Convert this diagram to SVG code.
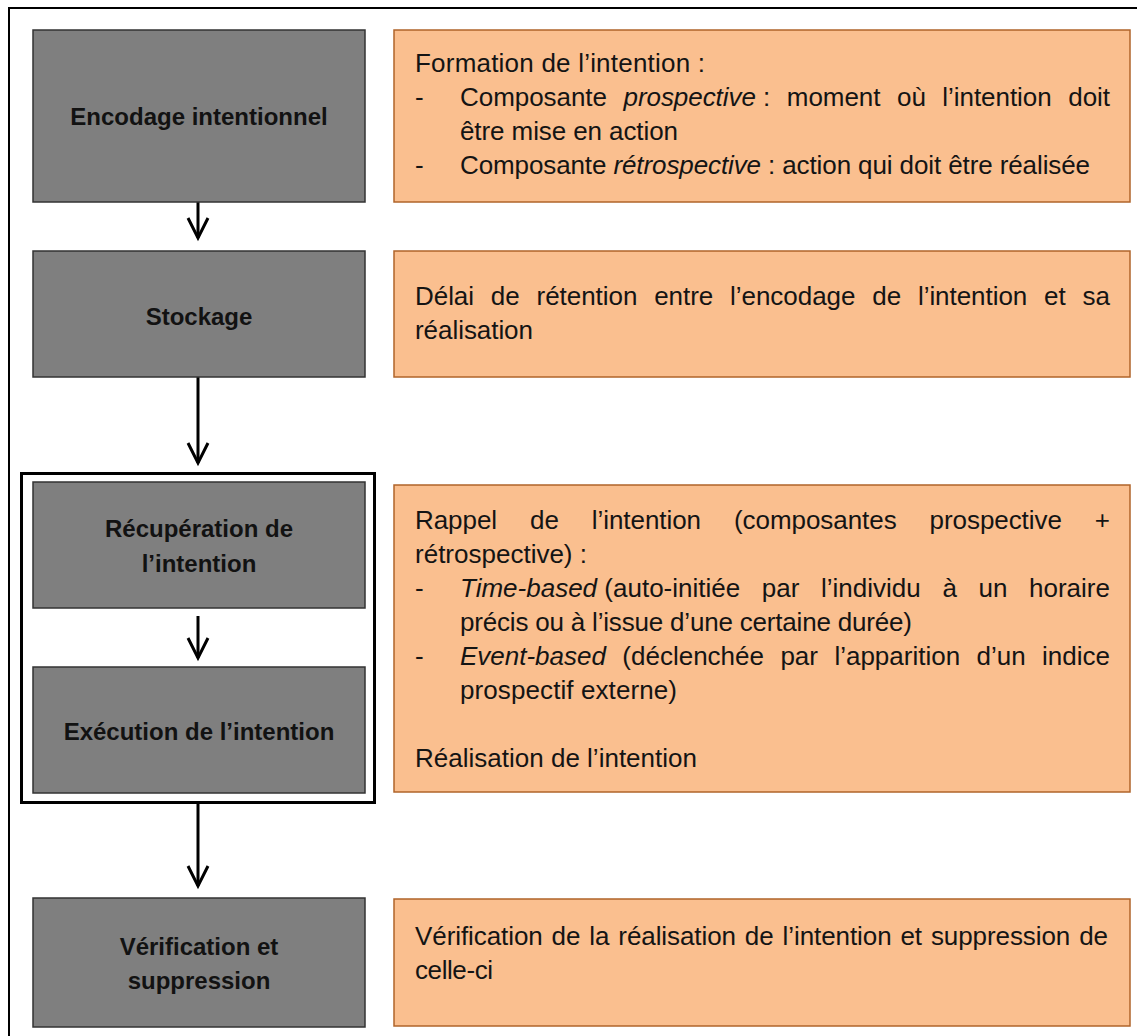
<svg xmlns="http://www.w3.org/2000/svg" width="1137" height="1036" viewBox="0 0 1137 1036">
  <style>
    .stage { fill: #7f7f7f; stroke: #333333; stroke-width: 1.5; }
    .desc { fill: #fabf8f; stroke: #b0642a; stroke-width: 1.5; }
    .lbl { font-family: "Liberation Sans", Arial, sans-serif; font-size: 24px; font-weight: bold; fill: #121212; text-anchor: middle; }
    .txt { font-family: "Liberation Sans", Arial, sans-serif; font-size: 26px; fill: #141414; }
    .it { font-style: italic; }
    .conn { stroke: #000; stroke-width: 3; fill: none; }
    .frame { fill: none; stroke: #000; }
  </style>
  <defs>
    <marker id="arr" viewBox="-24 -14 28 28" refX="0" refY="0" markerWidth="28" markerHeight="28" markerUnits="userSpaceOnUse" orient="auto">
      <path d="M-20,-10 L0,0 L-20,10" fill="none" stroke="#000" stroke-width="3" stroke-linejoin="miter"/>
    </marker>
  </defs>
  <rect width="1137" height="1036" fill="#ffffff"/>
  <rect class="frame" x="9" y="8" width="1140" height="1040" stroke-width="2"/>
  <rect id="phase-group" class="frame" x="21.5" y="473.5" width="353" height="329" stroke-width="3"/>

  <g id="connectors">
    <line class="conn" x1="198" y1="202" x2="198" y2="238" marker-end="url(#arr)"/>
    <line class="conn" x1="198" y1="377" x2="198" y2="463" marker-end="url(#arr)"/>
    <line class="conn" x1="198" y1="616" x2="198" y2="658" marker-end="url(#arr)"/>
    <line class="conn" x1="198" y1="803" x2="198" y2="886" marker-end="url(#arr)"/>
  </g>

  <g id="encodage">
    <rect class="stage" x="33" y="30" width="332" height="172"/>
    <text class="lbl" x="199" y="125">Encodage intentionnel</text>
  </g>
  <g id="stockage">
    <rect class="stage" x="33" y="251" width="332" height="126"/>
    <text class="lbl" x="199" y="325">Stockage</text>
  </g>
  <g id="recuperation">
    <rect class="stage" x="33" y="482" width="332" height="126"/>
    <text class="lbl" x="199" y="537">Récupération de</text>
    <text class="lbl" x="199" y="572">l’intention</text>
  </g>
  <g id="execution">
    <rect class="stage" x="33" y="667" width="332" height="126"/>
    <text class="lbl" x="199" y="740">Exécution de l’intention</text>
  </g>
  <g id="verification">
    <rect class="stage" x="33" y="898" width="332" height="129"/>
    <text class="lbl" x="199" y="955">Vérification et</text>
    <text class="lbl" x="199" y="989">suppression</text>
  </g>

  <g id="desc-encodage">
    <rect class="desc" x="394" y="30" width="736" height="172"/>
    <text class="txt" x="415" y="72" textLength="290" lengthAdjust="spacing">Formation de l’intention :</text>
    <text class="txt" x="415" y="106">-</text>
    <text class="txt" x="460" y="106" word-spacing="9.4" textLength="650" lengthAdjust="spacing">Composante <tspan class="it">prospective</tspan><tspan word-spacing="0"> :</tspan> moment où l’intention doit</text>
    <text class="txt" x="460" y="140" textLength="218" lengthAdjust="spacing">être mise en action</text>
    <text class="txt" x="415" y="174">-</text>
    <text class="txt" x="460" y="174" textLength="630" lengthAdjust="spacing">Composante <tspan class="it">rétrospective</tspan> : action qui doit être réalisée</text>
  </g>
  <g id="desc-stockage">
    <rect class="desc" x="394" y="251" width="736" height="126"/>
    <text class="txt" x="415" y="305" word-spacing="9.7" textLength="695" lengthAdjust="spacing">Délai de rétention entre l’encodage de l’intention et sa</text>
    <text class="txt" x="415" y="339" textLength="118" lengthAdjust="spacing">réalisation</text>
  </g>
  <g id="desc-recuperation-execution">
    <rect class="desc" x="394" y="485" width="736" height="307"/>
    <text class="txt" x="415" y="529" word-spacing="25.8" textLength="695" lengthAdjust="spacing">Rappel de l’intention (composantes prospective +</text>
    <text class="txt" x="415" y="563" textLength="172" lengthAdjust="spacing">rétrospective) :</text>
    <text class="txt" x="415" y="597">-</text>
    <text class="txt" x="460" y="597" word-spacing="14.4" textLength="650" lengthAdjust="spacing"><tspan class="it">Time-based</tspan><tspan word-spacing="0"> (auto-initiée</tspan> par l’individu à un horaire</text>
    <text class="txt" x="460" y="631" textLength="452" lengthAdjust="spacing">précis ou à l’issue d’une certaine durée)</text>
    <text class="txt" x="415" y="665">-</text>
    <text class="txt" x="460" y="665" word-spacing="9.2" textLength="650" lengthAdjust="spacing"><tspan class="it">Event-based</tspan> (déclenchée par l’apparition d’un indice</text>
    <text class="txt" x="460" y="699" textLength="217" lengthAdjust="spacing">prospectif externe)</text>
    <text class="txt" x="415" y="767" textLength="282" lengthAdjust="spacing">Réalisation de l’intention</text>
  </g>
  <g id="desc-verification">
    <rect class="desc" x="394" y="899" width="736" height="127"/>
    <text class="txt" x="415" y="945" word-spacing="1.8" textLength="693" lengthAdjust="spacing">Vérification de la réalisation de l’intention et suppression de</text>
    <text class="txt" x="415" y="979" textLength="78" lengthAdjust="spacing">celle-ci</text>
  </g>
</svg>
